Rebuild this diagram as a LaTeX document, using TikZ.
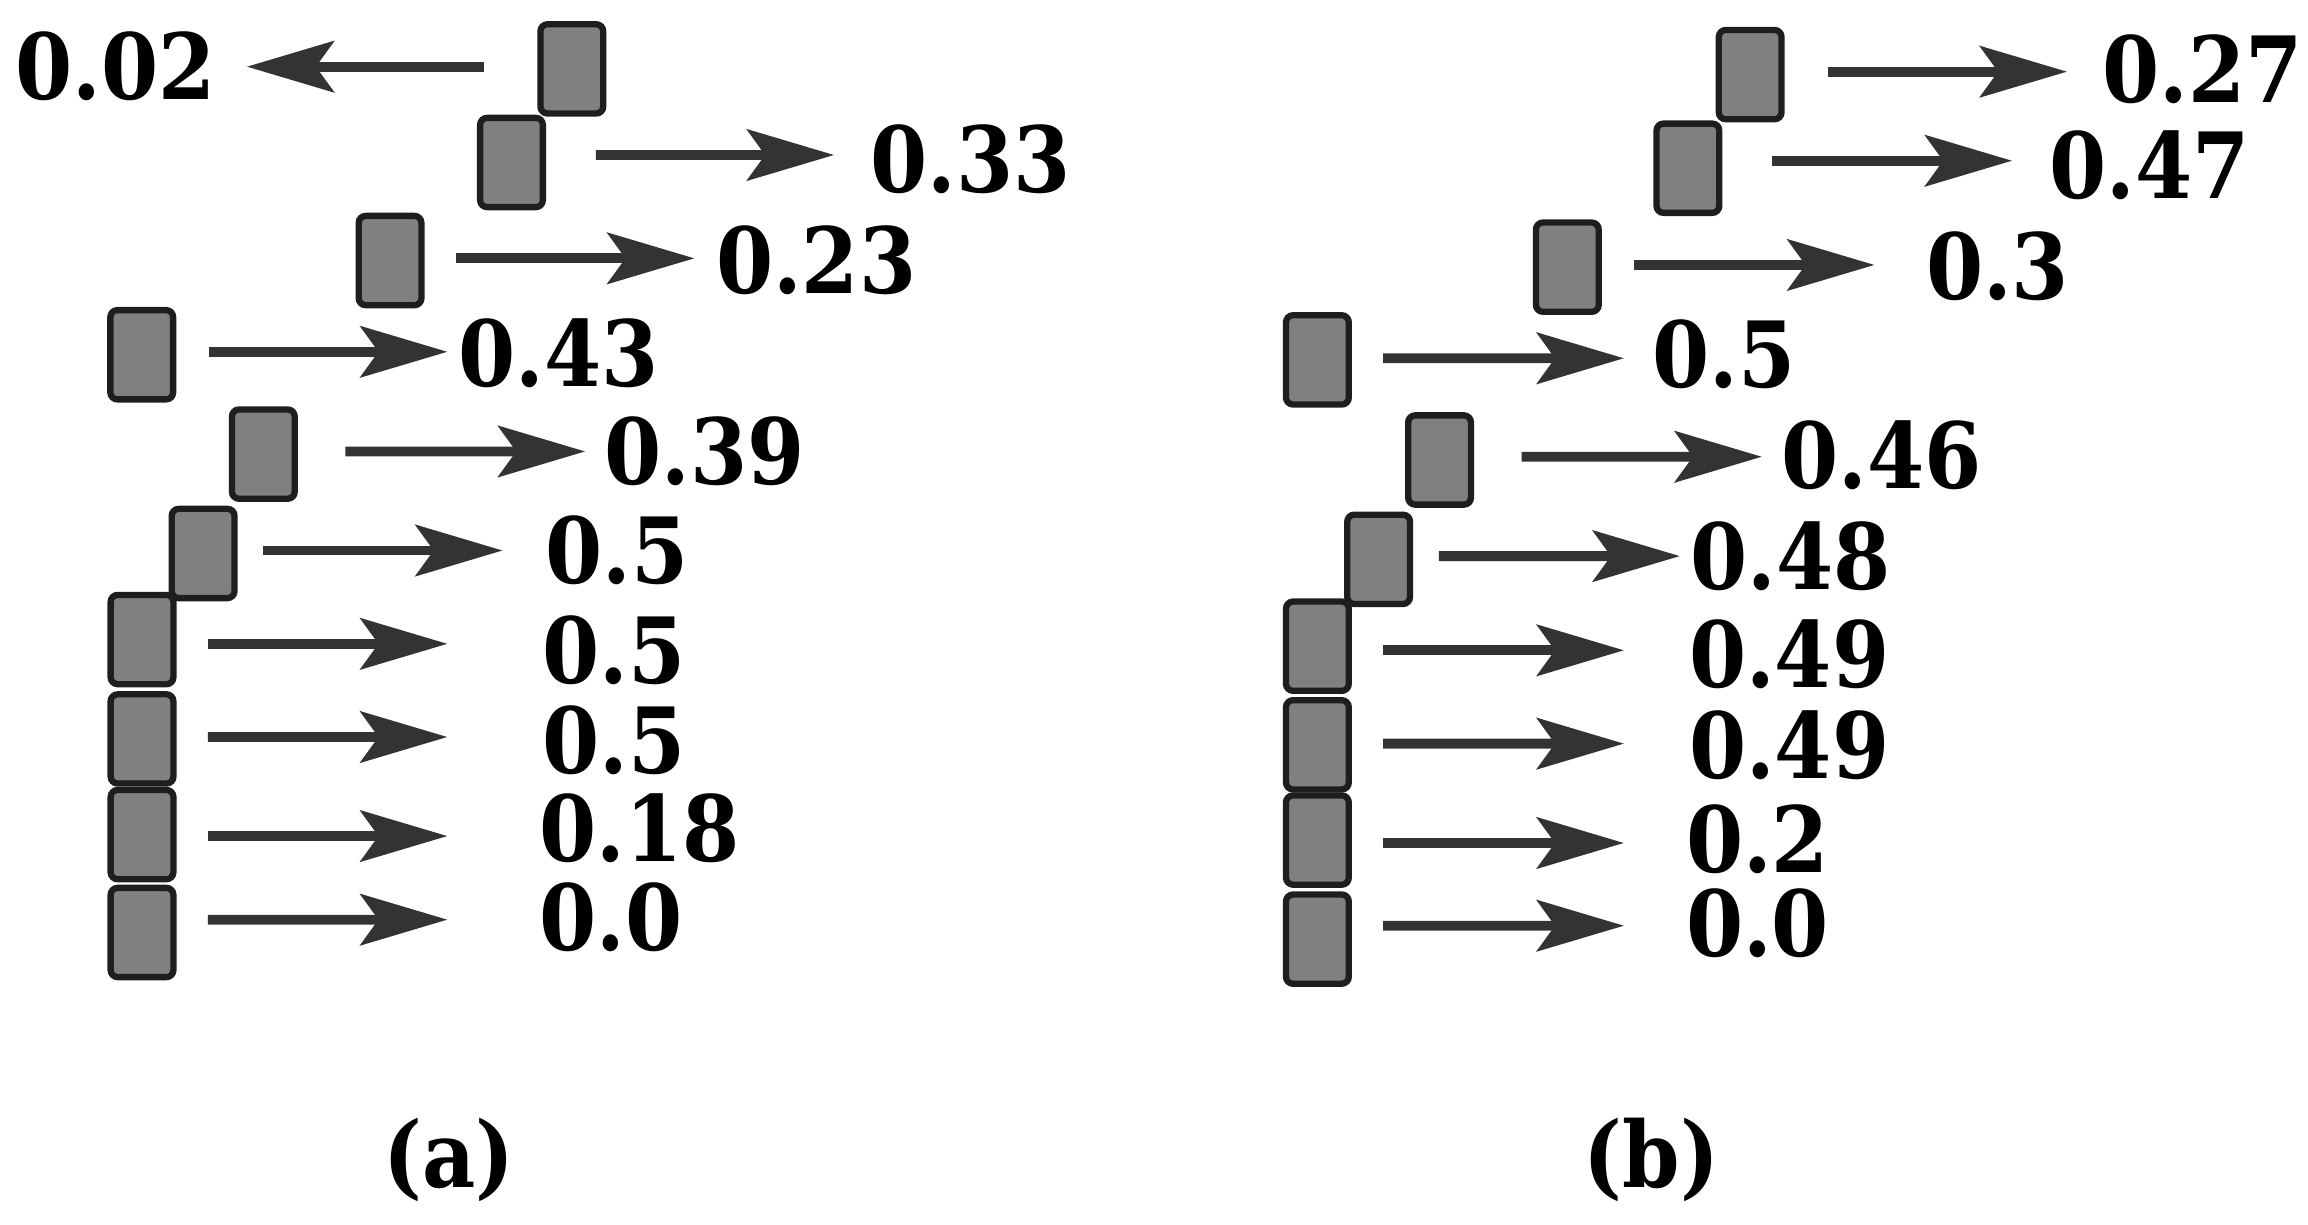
\documentclass[tikz,border=0pt]{standalone}
\usepackage{fontspec}
\setmainfont{DejaVu Serif}[FakeStretch=0.9]
\usetikzlibrary{arrows.meta}
\definecolor{cellgray}{RGB}{128,128,128}
\definecolor{celledge}{RGB}{30,30,30}
\definecolor{arrowgray}{RGB}{51,51,51}

\begin{document}
\begin{tikzpicture}[x=0.01472cm, y=-0.01472cm,
  cell/.style={draw=celledge, fill=cellgray, line width=1.8pt, rounded corners=2pt,
    minimum width=0.628cm, minimum height=0.893cm, inner sep=0pt},
  val/.style={anchor=west, inner sep=0pt, font=\fontsize{26}{30}\selectfont\bfseries},
  flow/.style={draw=arrowgray, line width=2.8pt,
    -{Stealth[length=8.7mm, width=5.1mm, inset=1.8mm]}}]
  \useasboundingbox (0,0) rectangle (1568,832);

  % panel (a)
  \node[cell] (a1) at (388.5,46.8) {};
  \node[cell] (a2) at (347.5,110.4) {};
  \node[cell] (a3) at (265,177) {};
  \node[cell] (a4) at (96.3,241) {};
  \node[cell] (a5) at (178.9,308.5) {};
  \node[cell] (a6) at (138,376) {};
  \node[cell] (a7) at (96.5,434.5) {};
  \node[cell] (a8) at (96.5,502) {};
  \node[cell] (a9) at (96.5,567) {};
  \node[cell] (a10) at (96.5,633.5) {};

  \node[val] (va1) at (10,44.7) {0.02};
  \node[val] (va2) at (591,108) {0.33};
  \node[val] (va3) at (486,177) {0.23};
  \node[val] (va4) at (311,240) {0.43};
  \node[val] (va5) at (410,306.7) {0.39};
  \node[val] (va6) at (370,374) {0.5};
  \node[val] (va7) at (368,441.5) {0.5};
  \node[val] (va8) at (368,502.6) {0.5};
  \node[val] (va9) at (366,562.8) {0.18};
  \node[val] (va10) at (366,623.4) {0.0};

  \coordinate (ta1) at (167.7,45.3);
  \coordinate (ta2) at (566.7,105.3);
  \coordinate (ta3) at (471.8,175.5);
  \coordinate (ta4) at (304,239);
  \coordinate (ta5) at (397.6,306.7);
  \coordinate (ta6) at (341.5,374);
  \coordinate (ta7) at (304,437.4);
  \coordinate (ta8) at (304,500.7);
  \coordinate (ta9) at (304,568);
  \coordinate (ta10) at (304,624.8);

  \draw[flow] ([shift={(-36,-1.5)}]a1.west) -- (ta1);
  \draw[flow] ([shift={(33.8,-5.1)}]a2.east) -- (ta2);
  \draw[flow] ([shift={(21.5,-1.5)}]a3.east) -- (ta3);
  \draw[flow] ([shift={(22.2,-2)}]a4.east) -- (ta4);
  \draw[flow] ([shift={(32.3,-1.8)}]a5.east) -- (ta5);
  \draw[flow] ([shift={(17.2,-2)}]a6.east) -- (ta6);
  \draw[flow] ([shift={(21.3,2.9)}]a7.east) -- (ta7);
  \draw[flow] ([shift={(21.3,-1.3)}]a8.east) -- (ta8);
  \draw[flow] ([shift={(21.3,1)}]a9.east) -- (ta9);
  \draw[flow] ([shift={(21.3,-8.7)}]a10.east) -- (ta10);

  % panel (b)
  \node[cell] (b1) at (1189,50.7) {};
  \node[cell] (b2) at (1146.7,114.3) {};
  \node[cell] (b3) at (1064.8,181.5) {};
  \node[cell] (b4) at (895,244.5) {};
  \node[cell] (b5) at (978,312.5) {};
  \node[cell] (b6) at (936.6,380) {};
  \node[cell] (b7) at (895,439) {};
  \node[cell] (b8) at (895,506) {};
  \node[cell] (b9) at (895,570.7) {};
  \node[cell] (b10) at (895,638) {};

  \node[val] (vb1) at (1428,47) {0.27};
  \node[val] (vb2) at (1392,112) {0.47};
  \node[val] (vb3) at (1308,181) {0.3};
  \node[val] (vb4) at (1122,241) {0.5};
  \node[val] (vb5) at (1210,309.4) {0.46};
  \node[val] (vb6) at (1148,377.6) {0.48};
  \node[val] (vb7) at (1147,444.4) {0.49};
  \node[val] (vb8) at (1147,506.6) {0.49};
  \node[val] (vb9) at (1145,570) {0.2};
  \node[val] (vb10) at (1145,627.4) {0.0};

  \coordinate (tb1) at (1404.3,48.7);
  \coordinate (tb2) at (1367,109.2);
  \coordinate (tb3) at (1273.5,180);
  \coordinate (tb4) at (1103.3,243.4);
  \coordinate (tb5) at (1197,310.3);
  \coordinate (tb6) at (1141.3,377.8);
  \coordinate (tb7) at (1103.3,441.8);
  \coordinate (tb8) at (1103.3,505.2);
  \coordinate (tb9) at (1103.3,572.7);
  \coordinate (tb10) at (1103.3,628.9);

  \draw[flow] ([shift={(29.4,-2)}]b1.east) -- (tb1);
  \draw[flow] ([shift={(33.7,-5.1)}]b2.east) -- (tb2);
  \draw[flow] ([shift={(21.5,-1.5)}]b3.east) -- (tb3);
  \draw[flow] ([shift={(21.1,-1.1)}]b4.east) -- (tb4);
  \draw[flow] ([shift={(32.3,-2.2)}]b5.east) -- (tb5);
  \draw[flow] ([shift={(17.5,-2.2)}]b6.east) -- (tb6);
  \draw[flow] ([shift={(21.1,2.8)}]b7.east) -- (tb7);
  \draw[flow] ([shift={(21.1,-0.8)}]b8.east) -- (tb8);
  \draw[flow] ([shift={(21.1,2)}]b9.east) -- (tb9);
  \draw[flow] ([shift={(21.1,-9.1)}]b10.east) -- (tb10);

  % captions
  \node[font=\fontsize{26}{30}\selectfont\bfseries, inner sep=0pt] (capa) at (305,788) {(a)};
  \node[font=\fontsize{26}{30}\selectfont\bfseries, inner sep=0pt] (capb) at (1122,788) {(b)};
\end{tikzpicture}
\end{document}
